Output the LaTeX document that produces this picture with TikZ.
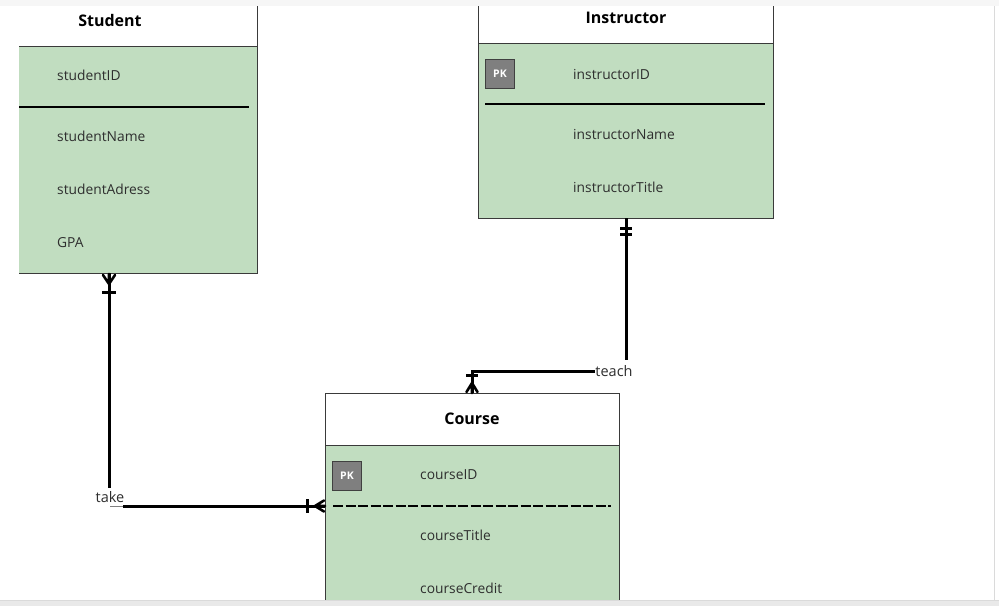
\documentclass[tikz,border=0pt]{standalone}
\usepackage{fontspec}
\setmainfont{Open Sans}
\definecolor{greenc}{HTML}{C1DDC0}
\definecolor{bordc}{HTML}{3A3A3A}
\definecolor{pkf}{HTML}{7F7F7F}
\definecolor{pkb}{HTML}{404040}
\definecolor{txtc}{HTML}{2E2E2E}
\definecolor{topc}{HTML}{F6F6F6}
\definecolor{edgec}{HTML}{DADADA}
\begin{document}
\begin{tikzpicture}[x=1pt,y=-1pt,
  body/.style={fill=greenc, inner sep=0pt, outer sep=0pt},
  head/.style={fill=white, inner sep=0pt, outer sep=0pt},
  bord/.style={draw=bordc, line width=1pt},
  fld/.style={anchor=west, font=\fontsize{13.8}{15}\selectfont, text=txtc, inner sep=0pt},
  ttl/.style={font=\bfseries\fontsize{16}{18}\selectfont, text=black, inner sep=0pt},
  pk/.style={draw=pkb, fill=pkf, text=white, font=\bfseries\fontsize{10.5}{11}\selectfont, minimum width=29pt, minimum height=29pt, inner sep=0pt, line width=1pt},
  sep/.style={line width=2.2pt, black},
  conn/.style={line width=3pt, black},
  crow/.style={line width=2.6pt, black, line cap=round},
  lbl/.style={font=\fontsize{14.5}{16}\selectfont, text=txtc, inner sep=0pt}]
\useasboundingbox (0,0) rectangle (999,606);
\fill[white] (0,0) rectangle (999,606);
\fill[topc] (0,0) rectangle (999,6);
\draw[edgec, line width=1pt] (994.5,6) -- (994.5,600);

% ---------- Student ----------
\node[head, minimum width=238pt, minimum height=40pt] (studentH) at (138,26) {};
\node[body, minimum width=238pt, minimum height=227pt] (studentB) at (138,159.5) {};
\draw[bord] (studentB.north west) -- (studentB.north east);
\draw[bord] (studentH.north east) -- (studentB.south east) -- (studentB.south west);
\node[ttl] (studentT) at (110,20) {Student};
\node[fld] (sID) at (57,75) {studentID};
\draw[sep] (19,107) -- (249,107);
\node[fld] (sName) at (57,136) {studentName};
\node[fld] (sAdr) at (57,189) {studentAdress};
\node[fld] (sGPA) at (57,243) {GPA};

% ---------- Instructor ----------
\node[head, minimum width=295pt, minimum height=37pt] (instH) at (625.5,24.5) {};
\node[body, minimum width=295pt, minimum height=175pt] (instB) at (625.5,130.5) {};
\draw[bord] (instB.north west) -- (instB.north east);
\draw[bord] (instH.north west) -- (instB.south west) -- (instB.south east) -- (instH.north east);
\node[ttl] (instT) at (626,18) {Instructor};
\node[pk] (instPK) at (500,74) {PK};
\node[fld] (iID) at (573,74) {instructorID};
\draw[sep] (485,104) -- (765,104);
\node[fld] (iName) at (573,134) {instructorName};
\node[fld] (iTitle) at (573,187) {instructorTitle};

% ---------- Course ----------
\node[head, minimum width=294pt, minimum height=52pt] (courseH) at (472,419) {};
\node[body, minimum width=294pt, minimum height=155pt] (courseB) at (472,522.5) {};
\draw[bord] (courseH.south west) -- (courseH.south east);
\draw[bord] (courseB.south west) -- (courseH.north west) -- (courseH.north east) -- (courseB.south east);
\node[ttl] (courseT) at (472,419) {Course};
\node[pk] (coursePK) at (347,476) {PK};
\node[fld] (cID) at (420,475) {courseID};
\draw[line width=2.4pt, black, dash pattern=on 10pt off 2.5pt] (333,506) -- (611,506);
\node[fld] (cTitle) at (420,535) {courseTitle};
\node[fld] (cCredit) at (420,588) {courseCredit};
\fill[edgec!60] (0,600) rectangle (999,606);
\draw[edgec, line width=1pt] (0,600.5) -- (999,600.5);

% ---------- take: Student -- Course ----------
\coordinate (sEnd) at (109,273);
\coordinate (cEnd) at (325,506);
\node[lbl] (take) at (110,497) {take};
\draw[conn] (sEnd) -- (109,488);
\draw[gray, line width=0.8pt] (110,506.5) -- (123,506.5);
\draw[conn] (123,506) -- (cEnd);
% crow's foot at Student
\draw[crow] (109,284) -- (103,275) (109,284) -- (109,274) (109,284) -- (115,275);
\draw[line width=3pt] (102,292) -- (116,292);
% crow's foot at Course (left)
\draw[crow] (315,506) -- (324,500.5) (315,506) -- (325,506) (315,506) -- (324,511.5);
\draw[line width=3pt] (307,499) -- (307,513);

% ---------- teach: Instructor -- Course ----------
\coordinate (iEnd) at (626,218);
\coordinate (ctEnd) at (472,393);
\node[lbl] (teach) at (614,371) {teach};
\draw[conn] (iEnd) -- (626,360);
\draw[conn] (teach.west) -- (472,371) -- (ctEnd);
\draw[line width=3pt] (620,228) -- (632,228);
\draw[line width=3pt] (620,234.5) -- (632,234.5);
\draw[crow] (472,383) -- (466.5,392) (472,383) -- (472,393) (472,383) -- (477.5,392);
\draw[line width=3pt] (466,375) -- (478,375);
\end{tikzpicture}
\end{document}
